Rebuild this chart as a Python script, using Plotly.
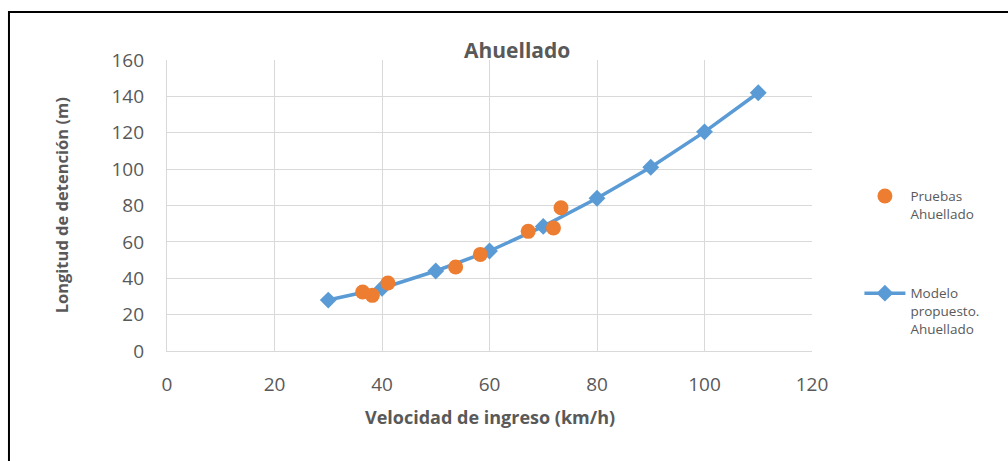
import plotly.graph_objects as go

# Data
model_x = [30, 40, 50, 60, 70, 80, 90, 100, 110]
model_y = [28, 34.5, 44, 55, 68.5, 84, 101, 120.5, 142]
test_x = [36.4, 38.2, 41.1, 53.7, 58.3, 67.2, 71.9, 73.3]
test_y = [32.4, 30.6, 37.4, 46.2, 53.1, 65.8, 67.6, 78.8]
x_ticks = [0, 20, 40, 60, 80, 100, 120]
y_ticks = [0, 20, 40, 60, 80, 100, 120, 140, 160]

FONT = "Open Sans"
GRAY = "#595959"

fig = go.Figure()
fig.add_trace(go.Scatter(
    x=model_x, y=model_y, mode="lines+markers", name="Modelo<br>propuesto.<br>Ahuellado",
    line=dict(color="#5B9BD5", width=3.5),
    marker=dict(symbol="diamond", size=13, color="#5B9BD5"),
    legendgroup="b", legendrank=2))
fig.add_trace(go.Scatter(
    x=test_x, y=test_y, mode="markers", name="Pruebas<br>Ahuellado",
    marker=dict(color="#ED7D31", size=15, line=dict(width=0)),
    legendgroup="a", legendrank=1))

fig.update_layout(
    width=1008, height=461,
    margin=dict(l=167, r=196, t=60, b=110),
    paper_bgcolor="white", plot_bgcolor="white",
    font=dict(family=FONT, color=GRAY),
    showlegend=True,
    legend=dict(x=1.0735, y=0.585, xanchor="left", yanchor="top",
                font=dict(size=13.5, color=GRAY), valign="top",
                tracegroupgap=59, traceorder="grouped",
                itemwidth=41,
                bgcolor="rgba(0,0,0,0)"),
    xaxis=dict(range=[0, 120], tickvals=x_ticks, showgrid=True,
               gridcolor="#D9D9D9", gridwidth=1.3, zeroline=False,
               showline=True, linecolor="#D9D9D9", linewidth=1.3,
               tickfont=dict(size=19, color=GRAY), ticklabelstandoff=16),
    yaxis=dict(range=[0, 160], tickvals=y_ticks, showgrid=True,
               gridcolor="#D9D9D9", gridwidth=1.3, zeroline=False,
               showline=True, linecolor="#D9D9D9", linewidth=1.3,
               tickfont=dict(size=19, color=GRAY), ticklabelstandoff=18),
    annotations=[
        dict(text="<b>Ahuellado</b>", xref="paper", yref="paper",
             x=0.542, y=1.034, showarrow=False, font=dict(size=21, color=GRAY),
             xanchor="center", yanchor="middle"),
        dict(text="<b>Velocidad de ingreso (km/h)</b>", xref="paper", yref="paper",
             x=0.5, y=-0.227, showarrow=False, font=dict(size=18, color=GRAY),
             xanchor="center", yanchor="middle"),
        dict(text="<b>Longitud de detención (m)</b>", xref="paper", yref="paper",
             x=-0.163, y=0.5, showarrow=False, textangle=-90,
             font=dict(size=16.5, color=GRAY), xanchor="center", yanchor="middle"),
    ],
    shapes=[
        dict(type="rect", xref="paper", yref="paper",
             x0=-0.245, x1=1.6, y0=-1.0, y1=1.165,
             line=dict(color="black", width=2), fillcolor="rgba(0,0,0,0)", layer="above"),
    ],
)

fig.write_html("out.html")
